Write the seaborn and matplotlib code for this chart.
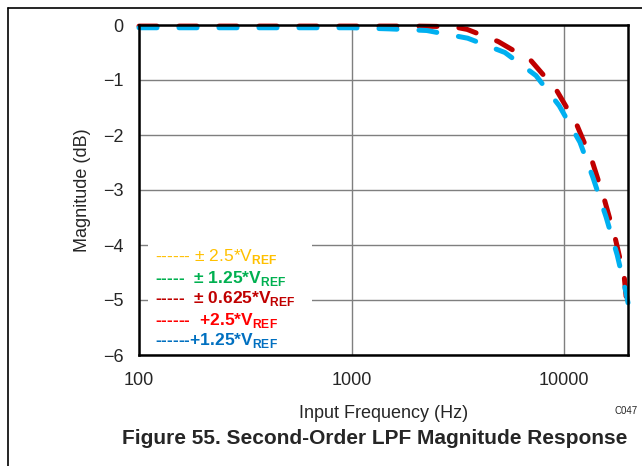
import numpy as np
import pandas as pd
import matplotlib
matplotlib.use("Agg")
import matplotlib.pyplot as plt
from matplotlib.lines import Line2D
import seaborn as sns

# ---- data ----
freq_red = [100, 200, 500, 1000, 2000, 3000, 3500, 4900, 7000, 9200, 11500, 13600, 15450, 17400, 19200, 20000]
mag_red = [-0.02, -0.02, -0.02, -0.02, -0.02, -0.03, -0.08, -0.30, -0.65, -1.18, -1.82, -2.49, -3.16, -3.87, -4.58, -5.3]
freq_blue = [100, 200, 500, 1000, 1500, 2260, 3520, 5270, 7380, 9500, 11880, 13700, 15770, 17790, 19590, 20000]
mag_blue = [-0.05, -0.05, -0.05, -0.05, -0.07, -0.10, -0.24, -0.50, -0.92, -1.47, -2.13, -2.78, -3.49, -4.18, -4.87, -5.05]

series_names = ["\u00b1 0.625*V_REF", "+1.25*V_REF"]
line_colors = ["#C00000", "#00B0F0"]

legend_labels = ["\u00b1 2.5*V", " \u00b1 1.25*V", " \u00b1 0.625*V", " +2.5*V", "+1.25*V"]
legend_dashes = ["------ ", "----- ", "----- ", "------ ", "------"]
legend_colors = ["#FFC000", "#00B050", "#C00000", "#FF0000", "#0070C0"]

x_ticks = [100, 1000, 10000]
y_ticks = [0, -1, -2, -3, -4, -5, -6]

df = pd.concat([
    pd.DataFrame({"Frequency": freq_red, "Magnitude": mag_red, "Series": series_names[0]}),
    pd.DataFrame({"Frequency": freq_blue, "Magnitude": mag_blue, "Series": series_names[1]}),
])

sns.set_style("white")
plt.rcParams["font.family"] = ["Liberation Sans", "DejaVu Sans"]
plt.rcParams["mathtext.fontset"] = "custom"
plt.rcParams["mathtext.rm"] = "Liberation Sans:bold"
plt.rcParams["mathtext.bf"] = "Liberation Sans:bold"

fig = plt.figure(figsize=(6.42, 4.66), dpi=100)
ax = fig.add_axes([139 / 642, 1 - 355 / 466, (628 - 139) / 642, (355 - 25) / 466])

sns.lineplot(data=df, x="Frequency", y="Magnitude", hue="Series", palette=line_colors,
             ax=ax, legend=False, linewidth=3.6, estimator=None, sort=False)
for ln in ax.get_lines():
    ln.set_dashes([3.6, 4.4])
    ln.set_dash_capstyle("round")
    ln.set_solid_capstyle("round")
    ln.set_clip_on(False)

ax.set_xscale("log")
ax.set_xlim(100, 20000)
ax.set_ylim(-6, 0)
ax.set_xticks(x_ticks)
ax.set_xticklabels([str(t) for t in x_ticks], fontsize=13)
ax.set_yticks(y_ticks)
ax.set_yticklabels(["0" if t == 0 else "\u2212%d" % abs(t) for t in y_ticks], fontsize=13)
ax.minorticks_off()
ax.tick_params(axis="x", length=0, pad=12)
ax.tick_params(axis="y", length=0, pad=11)
ax.grid(True, which="major", color="#7f7f7f", linewidth=1.0)
ax.set_axisbelow(True)
for s in ax.spines.values():
    s.set_color("black")
    s.set_linewidth(1.8)
ax.set_xlabel("Input Frequency (Hz)", fontsize=13, labelpad=12)
ax.set_ylabel("Magnitude (dB)", fontsize=13, labelpad=9)

# legend box (text-style legend as in the reference)
ax.add_patch(plt.Rectangle((148 / 642, 1 - 350 / 466), (312 - 148) / 642, (350 - 240) / 466,
                           transform=fig.transFigure, facecolor="white", edgecolor="none", zorder=3))
ys = [257, 278, 299, 320, 341]
for i, (lab, dsh, col, yy) in enumerate(zip(legend_labels, legend_dashes, legend_colors, ys)):
    wt = "normal" if i == 0 else "bold"
    fig.text(155 / 642, 1 - yy / 466, dsh + lab + r"$_{\mathrm{REF}}$", color=col,
             fontsize=12.5, fontweight=wt, va="center", ha="left", zorder=4)

fig.text(375 / 642, 1 - 438 / 466, "Figure 55. Second-Order LPF Magnitude Response",
         fontsize=15, fontweight="bold", ha="center", va="center")
fig.text(638 / 642, 1 - 411 / 466, "C047", fontsize=7, ha="right", va="center")

# page frame lines
fig.add_artist(Line2D([8 / 642, 8 / 642], [0, 1 - 8 / 466], color="black", linewidth=1.2, transform=fig.transFigure))
fig.add_artist(Line2D([8 / 642, 1], [1 - 8 / 466, 1 - 8 / 466], color="black", linewidth=1.2, transform=fig.transFigure))

fig.savefig("out.png", dpi=100)
